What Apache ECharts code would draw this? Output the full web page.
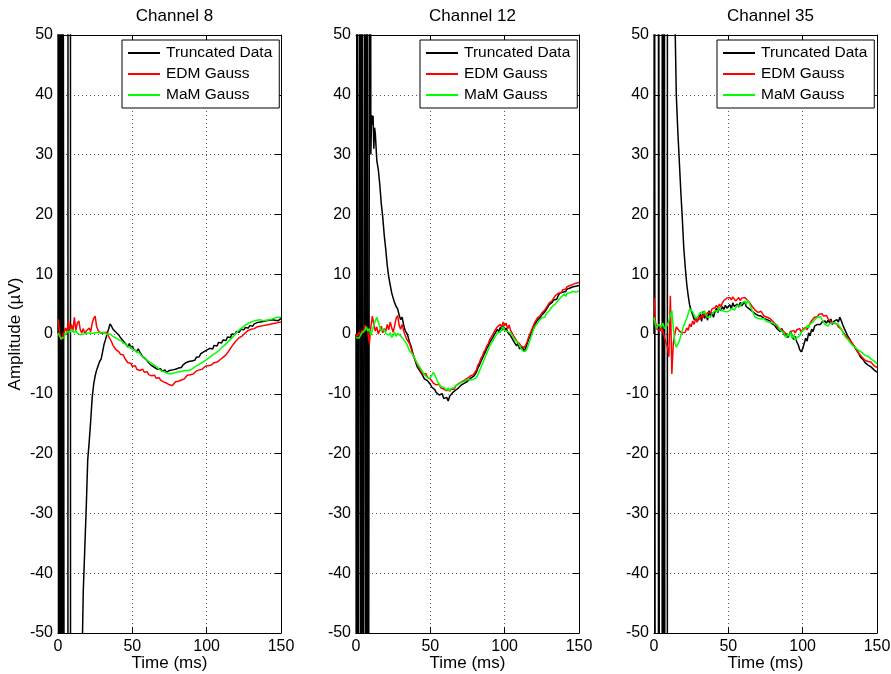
<!DOCTYPE html>
<html><head><meta charset="utf-8">
<script src="https://cdn.jsdelivr.net/npm/echarts@6/dist/echarts.min.js"></script>
<style>html,body{margin:0;padding:0;background:#fff}#c{width:891px;height:674px}</style>
</head><body><div id="c"></div>
<script>
// ---------------- DATA ----------------
const channelTitles = ['Channel 8', 'Channel 12', 'Channel 35'];
const seriesNames = ['Truncated Data', 'EDM Gauss', 'MaM Gauss'];
const xAxisTitle = 'Time (ms)';
const yAxisTitle = 'Amplitude (µV)';
const xRange = [0, 150];
const yRange = [-50, 50];
// sampling grid: 0..150 ms, 1 ms step
const sampleTimes = [];
for (let i = 0; i <= 150; i++) sampleTimes.push(i);

// ---- Channel 8 ----
// stimulation artefact (truncated data before recovery), fine time resolution
const ch8TruncEarlyT = [0, 0.15, 0.4, 0.65, 0.9, 1.15, 1.4, 1.65, 1.9, 2.15, 2.4, 2.65, 2.9, 3.2, 4.35, 4.45, 6.65, 6.75, 8.35, 8.45, 12, 16.5];
const ch8TruncEarlyV = [0, 150, -150, 150, -150, 150, -150, 150, -150, 150, -150, 150, -150, 150, 150, -150, -150, 150, 150, -150, -160, -50];
const ch8Trunc = [
  null,null,null,null,null,null,null,null,null,null,null,
  null,null,null,null,null,null,-43,-36,-29,-21,
  -18,-14.5,-10.6,-8.4,-7.0,-6.0,-5.3,-4.6,-4.2,-3.0,
  -1.7,-0.9,0.0,0.8,1.7,1.3,0.8,1.0,0.3,0.5,
  -0.2,-0.6,-0.3,-1.2,-1.0,-1.8,-2.2,-1.6,-2.4,-2.0,
  -2.6,-2.3,-2.9,-2.5,-3.0,-3.4,-3.8,-3.6,-4.2,-4.5,
  -4.8,-5.0,-5.3,-5.2,-5.6,-5.7,-5.9,-6.1,-5.8,-6.2,
  -6.3,-6.0,-6.4,-6.2,-6.1,-5.8,-6.0,-5.7,-5.9,-5.6,
  -5.7,-5.4,-5.6,-5.2,-5.0,-4.8,-5.1,-4.6,-4.9,-4.5,
  -4.2,-4.4,-3.9,-3.6,-3.8,-3.3,-3.5,-3.0,-3.2,-2.7,
  -2.9,-2.4,-2.2,-2.5,-1.9,-1.7,-2.0,-1.4,-1.2,-1.5,
  -1.0,-0.8,-1.1,-0.5,-0.3,-0.6,0.0,0.2,-0.1,0.4,
  0.6,0.3,0.8,1.0,0.7,1.1,1.3,1.0,1.4,1.6,
  1.3,1.7,1.5,1.9,1.6,2.0,1.8,2.1,1.9,2.2,
  2.0,2.3,2.1,2.4,2.2,2.3,2.5,2.2,2.4,2.6
];
const ch8Edm = [
  2.5,0.5,-1.0,-0.7,0.2,1.0,0.3,2.2,0.5,1.6,0.4,
  2.8,0.6,1.8,2.2,0.7,0.2,0.9,0.1,0.5,0.3,
  1.0,0.4,1.8,2.6,3.0,1.2,0.6,0.3,0.1,-0.2,
  0.2,-0.1,0.3,-0.4,-0.8,-1.3,-1.9,-2.2,-2.6,-2.9,
  -3.0,-3.4,-3.6,-3.5,-4.1,-4.4,-4.8,-5.0,-4.9,-5.4,
  -5.6,-5.3,-5.9,-5.7,-6.1,-6.3,-5.9,-6.4,-6.6,-6.3,
  -6.8,-6.6,-7.0,-7.2,-6.9,-7.4,-7.6,-7.3,-7.7,-7.9,
  -8.0,-7.8,-8.2,-8.4,-8.5,-8.2,-8.6,-8.3,-8.0,-7.8,
  -7.9,-7.6,-7.7,-7.4,-7.5,-7.2,-6.9,-7.1,-6.8,-6.6,
  -6.7,-6.4,-6.2,-6.3,-6.0,-5.8,-5.9,-5.6,-5.4,-5.5,
  -5.3,-5.1,-5.2,-4.9,-4.8,-5.0,-4.7,-4.5,-4.3,-4.1,
  -3.9,-3.7,-3.5,-3.2,-2.8,-2.4,-2.1,-1.7,-1.4,-1.1,
  -0.9,-0.6,-0.4,-0.3,0.0,0.2,0.3,0.6,0.7,0.8,
  1.0,0.9,1.1,1.2,1.0,1.3,1.2,1.4,1.3,1.5,
  1.4,1.6,1.5,1.7,1.6,1.8,1.7,1.9,1.8,2.0
];
const ch8Mam = [
  0.2,-0.3,-0.8,-1.0,-0.6,0.0,0.4,0.6,0.3,0.8,0.5,
  0.2,0.6,0.1,0.3,-0.1,0.2,0.0,0.3,0.1,0.4,
  0.2,0.5,0.1,0.3,0.2,0.0,0.3,0.1,0.2,0.0,
  0.3,0.1,-0.1,0.2,0.0,-0.2,-0.4,-0.3,-0.7,-0.9,
  -1.0,-1.3,-1.2,-1.6,-1.8,-1.7,-2.1,-2.3,-2.2,-2.6,
  -2.8,-2.7,-3.1,-3.3,-3.2,-3.6,-3.8,-3.9,-4.2,-4.4,
  -4.5,-4.8,-4.9,-5.1,-5.3,-5.4,-5.7,-5.9,-6.0,-6.2,
  -6.3,-6.4,-6.5,-6.6,-6.5,-6.7,-6.6,-6.5,-6.6,-6.4,
  -6.5,-6.3,-6.4,-6.2,-6.3,-6.1,-6.0,-6.1,-5.8,-5.9,
  -5.6,-5.5,-5.3,-5.2,-5.0,-4.9,-4.7,-4.6,-4.4,-4.3,
  -4.0,-3.9,-3.7,-3.5,-3.4,-3.2,-3.0,-2.8,-2.6,-2.3,
  -2.1,-1.9,-1.6,-1.4,-1.1,-0.9,-0.6,-0.4,-0.1,0.2,
  0.4,0.7,0.9,1.1,1.3,1.5,1.6,1.8,1.9,2.0,
  2.1,2.2,2.1,2.3,2.2,2.4,2.3,2.2,2.4,2.3,
  2.5,2.4,2.6,2.5,2.6,2.7,2.6,2.8,2.9,2.8
];

// ---- Channel 12 ----
const ch12TruncEarlyT = [0, 0.3, 0.65, 0.75, 1.25, 1.35, 2.65, 2.75, 3.35, 3.45, 3.95, 4.05, 4.65, 4.75, 6.05, 6.15, 6.65, 6.75, 7.35, 7.45, 8.05, 8.15, 9.35, 9.45, 9.9, 10.0, 10.5, 11.0, 11.5, 12.0, 12.5];
const ch12TruncEarlyV = [0, -150, -150, 150, 150, -150, -150, 150, 150, -150, -150, 150, 150, -150, -150, 150, 150, -150, -150, 150, 150, -150, -150, 150, 150, 30, 36.6, 35, 36.5, 31, 34.5];
const ch12Trunc = [
  null,null,null,null,null,null,null,null,null,null,null,
  null,null,33.5,29,27.5,25,21.8,19.5,16.5,14.2,
  11.5,9.6,8.2,6.9,6.0,5.2,4.6,4.2,3.2,2.4,
  2.8,1.6,0.6,0.2,-0.4,-1.4,-2.0,-3.0,-3.9,-4.6,
  -5.4,-5.6,-6.2,-6.6,-7.0,-7.5,-7.2,-7.8,-8.1,-8.4,
  -8.9,-8.6,-9.3,-9.8,-9.5,-10.2,-10.4,-10.0,-10.8,-11.1,
  -10.6,-11.2,-10.4,-10.7,-9.8,-10.1,-9.4,-9.7,-9.0,-8.8,
  -8.5,-8.7,-8.2,-8.4,-7.9,-7.7,-7.4,-7.6,-7.1,-6.8,
  -6.4,-5.7,-5.2,-4.6,-4.1,-3.5,-3.0,-2.4,-2.0,-1.4,
  -1.0,-0.6,-0.1,0.3,0.8,0.4,1.1,0.6,1.4,0.5,
  1.0,0.3,0.6,-0.3,-0.6,-1.2,-1.6,-2.0,-1.5,-2.5,
  -2.8,-2.2,-2.9,-2.4,-1.7,-1.0,-0.5,0.3,0.9,1.5,
  1.8,2.3,2.0,2.8,3.2,3.0,3.7,4.1,4.5,4.9,
  4.7,5.3,5.7,6.0,5.8,6.4,6.8,6.5,7.0,7.3,
  7.1,7.5,7.2,7.7,7.4,7.9,7.6,8.0,8.3,8.1
];
const ch12Edm = [
  0.0,-0.4,0.3,-0.2,0.6,0.2,1.5,1.8,0.4,-1.6,1.2,
  3.0,1.6,0.5,1.2,0.0,0.6,1.3,0.2,0.9,0.4,
  1.6,0.7,2.0,1.1,0.3,1.4,2.6,3.1,1.5,0.8,
  1.6,0.6,-0.2,-0.8,-0.6,-1.6,-2.4,-3.2,-3.8,-4.4,
  -5.0,-5.4,-5.9,-6.2,-6.7,-7.0,-6.6,-7.2,-7.0,-7.5,
  -7.8,-8.2,-7.9,-8.5,-8.8,-8.4,-9.0,-8.7,-9.2,-9.0,
  -9.5,-9.1,-9.6,-9.2,-8.9,-9.3,-8.7,-8.9,-8.3,-8.5,
  -8.0,-8.2,-7.7,-7.9,-7.4,-7.6,-7.0,-7.2,-6.8,-6.6,
  -6.0,-5.2,-4.8,-4.1,-3.7,-3.0,-2.6,-2.0,-1.6,-0.9,
  -0.6,-0.1,0.4,0.8,1.2,0.9,1.6,1.1,2.0,1.4,
  1.8,0.9,1.5,0.6,0.2,-0.3,-0.7,-1.2,-0.9,-1.6,
  -2.0,-1.7,-2.3,-1.9,-1.4,-0.6,0.0,0.6,1.2,1.8,
  2.0,2.7,2.4,3.1,3.5,3.2,4.0,4.4,4.8,5.2,
  5.0,5.6,6.0,6.4,6.2,6.8,7.1,6.9,7.4,7.7,
  7.5,7.9,7.6,8.1,7.8,8.3,8.0,8.5,8.8,8.6
];
const ch12Mam = [
  -0.6,-0.4,-0.7,-0.5,0.2,0.0,0.6,1.2,0.5,0.9,-0.2,
  0.6,1.5,2.2,2.8,2.0,1.2,0.5,0.3,0.8,0.1,
  0.4,-0.2,0.2,-0.6,-0.2,0.3,-0.4,0.1,0.0,-0.3,
  -0.5,-0.9,-1.1,-1.6,-2.2,-2.8,-3.1,-3.4,-3.9,-4.3,
  -4.8,-5.2,-5.6,-6.0,-6.4,-6.8,-7.0,-7.3,-7.5,-7.3,
  -6.9,-6.4,-6.8,-7.4,-8.0,-8.4,-8.8,-8.5,-8.9,-9.2,
  -9.4,-9.0,-9.5,-9.1,-8.8,-9.0,-8.6,-8.7,-8.4,-8.5,
  -8.1,-8.3,-7.9,-8.0,-7.6,-7.5,-7.7,-7.4,-7.6,-7.8,
  -7.3,-6.8,-6.2,-5.6,-5.0,-4.4,-3.8,-3.2,-2.6,-2.0,
  -1.7,-1.2,-0.7,-0.3,0.2,0.5,0.3,0.8,1.2,0.6,
  0.9,0.4,0.7,0.2,-0.2,-0.5,-1.0,-1.2,-1.5,-1.9,
  -2.4,-2.8,-2.6,-2.9,-2.5,-1.8,-1.0,-0.3,0.4,1.1,
  1.3,1.8,2.2,2.0,2.7,3.0,2.8,3.4,3.7,3.9,
  4.2,4.6,4.4,5.0,5.3,5.6,5.9,6.2,6.4,6.7,
  6.3,6.8,6.5,6.9,6.7,7.1,6.8,7.0,7.3,7.2
];

// ---- Channel 35 ----
const ch35TruncEarlyT = [0, 0.25, 0.85, 0.95, 2.95, 3.05, 3.65, 3.75, 5.45, 5.55, 6.15, 6.25, 6.75, 6.85, 7.35, 7.45, 8.95, 9.05, 11, 14.3];
const ch35TruncEarlyV = [0, 150, 150, -150, -150, 150, 150, -150, -150, 150, 150, -150, -150, 150, 150, -150, -150, 150, 160, 50];
const ch35Trunc = [
  null,null,null,null,null,null,null,null,null,null,null,
  null,null,null,null,40,34,29,24,19.5,14.5,
  11.2,8.4,6.4,4.8,3.9,3.2,2.4,2.8,2.0,2.6,
  3.4,2.1,3.8,2.6,3.5,2.3,3.9,3.0,3.6,2.8,
  3.7,4.3,3.6,4.4,3.9,4.6,4.1,4.8,4.3,4.5,
  4.9,4.2,5.2,4.6,4.3,5.0,4.5,5.3,4.7,5.0,
  5.4,4.6,4.9,4.2,4.5,3.8,4.0,3.4,3.6,3.1,
  3.3,3.0,3.2,2.6,2.9,2.4,2.7,2.2,1.8,2.1,
  1.5,1.2,0.8,1.1,0.4,0.9,0.2,-0.3,0.1,-0.6,
  -0.2,0.5,-0.5,-0.9,-0.4,-1.3,-1.8,-2.6,-3.0,-2.5,
  -1.6,-0.7,-1.2,0.2,-0.3,0.8,0.4,1.3,1.0,1.6,
  1.9,1.6,2.0,1.7,2.2,1.8,2.3,1.9,2.5,1.6,
  2.1,1.8,2.4,2.0,2.8,2.2,1.5,0.9,0.4,-0.2,
  -0.6,-1.0,-1.5,-1.8,-2.2,-2.6,-3.0,-3.4,-3.9,-4.2,
  -4.4,-4.8,-4.6,-5.2,-5.0,-5.5,-5.3,-6.0,-5.8,-6.4
];
const ch35Edm = [
  6.1,2.0,0.8,1.0,0.5,1.2,0.4,0.7,-1.4,-2.2,-3.8,
  6.4,-6.7,-1.5,0.0,1.2,1.0,0.5,0.8,0.2,0.4,
  0.3,1.0,0.6,1.7,1.2,2.2,1.6,2.6,2.0,2.9,
  2.4,3.2,2.7,3.4,3.0,3.6,3.9,3.5,4.2,4.0,
  4.4,4.8,4.3,5.0,4.6,5.2,5.6,5.4,6.0,5.8,
  6.1,5.7,6.2,5.9,5.5,5.8,6.1,5.6,6.0,5.8,
  6.1,5.9,5.6,5.4,5.0,4.6,4.3,4.0,3.8,3.6,
  3.5,3.8,3.4,3.0,3.2,2.8,3.0,2.6,2.4,2.1,
  2.0,1.6,1.2,1.4,0.8,1.0,0.5,0.2,0.0,0.3,
  -0.2,0.4,0.1,0.6,0.2,0.7,0.4,0.9,0.3,0.8,
  0.6,1.1,0.7,1.3,1.8,2.2,2.5,2.8,3.1,2.9,
  3.3,3.1,3.4,3.0,2.8,3.1,2.6,2.3,2.0,2.2,
  1.8,1.5,1.7,1.2,1.0,0.8,0.4,0.1,-0.3,-0.6,
  -0.8,-1.1,-1.4,-1.8,-2.1,-2.5,-2.9,-3.3,-3.6,-3.9,
  -4.1,-4.4,-4.3,-4.6,-4.8,-4.7,-5.0,-5.3,-5.2,-5.6
];
const ch35Mam = [
  2.8,1.4,1.0,1.6,1.7,1.2,1.8,0.9,0.6,1.5,2.2,
  3.2,3.9,1.0,-1.5,-2.2,-2.0,-1.2,-0.3,0.6,1.4,
  2.0,2.6,3.4,4.2,4.5,3.7,3.2,2.6,2.8,3.1,
  3.6,3.9,3.4,3.9,3.2,2.8,3.0,2.8,3.4,3.6,
  3.9,4.2,3.8,4.5,4.0,4.3,3.8,4.1,3.7,3.9,
  3.9,4.3,4.6,4.0,4.4,4.8,5.0,4.6,5.2,5.3,
  5.5,5.0,5.6,5.2,4.6,3.9,3.4,2.8,3.0,2.6,
  2.9,2.5,2.3,2.6,2.2,2.4,2.0,2.3,1.9,2.1,
  1.7,1.9,1.5,1.0,0.6,0.9,0.3,-0.2,-0.6,0.0,
  -0.4,0.3,-0.7,-0.2,-1.1,-0.6,-0.9,-0.3,0.2,0.6,
  0.3,0.9,1.4,1.0,1.7,1.5,2.0,2.4,2.2,2.8,
  2.6,2.9,2.4,2.1,1.6,1.8,1.3,1.7,1.4,1.9,
  2.2,1.8,2.1,1.6,1.3,0.8,0.3,-0.2,-0.6,-0.9,
  -1.1,-1.5,-1.8,-2.0,-2.2,-2.4,-2.6,-2.8,-2.7,-3.1,
  -3.3,-3.6,-3.9,-3.7,-4.0,-4.2,-4.1,-4.5,-4.8,-5.0
];

// ---------------- CHART ----------------
const panels = [
  { early: [ch8TruncEarlyT, ch8TruncEarlyV], trunc: ch8Trunc, edm: ch8Edm, mam: ch8Mam },
  { early: [ch12TruncEarlyT, ch12TruncEarlyV], trunc: ch12Trunc, edm: ch12Edm, mam: ch12Mam },
  { early: [ch35TruncEarlyT, ch35TruncEarlyV], trunc: ch35Trunc, edm: ch35Edm, mam: ch35Mam }
];
const colors = ['#000000', '#ff0000', '#00ff00'];
const FONT = 'Liberation Sans, Arial, Helvetica, sans-serif';
const gridLeft = [58, 356, 654];
const legendLeft = [122, 420, 717];
const GRID_TOP = 35, GRID_W = 223, GRID_H = 598;

function pairs(vals) {
  const out = [];
  vals.forEach((v, i) => { if (v !== null) out.push([sampleTimes[i], v]); });
  return out;
}
function earlyPairs(e) { return e[0].map((t, i) => [t, e[1][i]]); }

const grids = [], xAxes = [], yAxes = [], series = [], legends = [], titles = [];
const gridLineStyle = { color: '#555', type: [1, 3], width: 1 };
const axisLineStyle = { color: '#000', width: 1 };

panels.forEach((p, i) => {
  grids.push({ left: gridLeft[i], top: GRID_TOP, width: GRID_W, height: GRID_H, containLabel: false, outerBoundsMode: 'none' });
  xAxes.push({
    gridIndex: i, type: 'value', min: xRange[0], max: xRange[1], interval: 50, position: 'bottom',
    axisLine: { onZero: false, lineStyle: axisLineStyle },
    axisTick: { inside: true, length: 6, lineStyle: axisLineStyle },
    axisLabel: { fontSize: 16, color: '#000', margin: 6, fontFamily: FONT },
    splitLine: { show: true, lineStyle: gridLineStyle },
    name: xAxisTitle, nameLocation: 'middle', nameGap: 22, nameMoveOverlap: false,
    nameTextStyle: { fontSize: 17, color: '#000', fontFamily: FONT, verticalAlign: 'top' }
  });
  xAxes.push({
    gridIndex: i, type: 'value', min: xRange[0], max: xRange[1], interval: 50, position: 'top',
    axisLine: { onZero: false, lineStyle: axisLineStyle },
    axisTick: { inside: true, length: 6, lineStyle: axisLineStyle },
    axisLabel: { show: false }, splitLine: { show: false }
  });
  const yLeft = {
    gridIndex: i, type: 'value', min: yRange[0], max: yRange[1], interval: 10, position: 'left',
    axisLine: { onZero: false, show: true, lineStyle: axisLineStyle },
    axisTick: { show: true, inside: true, length: 6, lineStyle: axisLineStyle },
    axisLabel: { fontSize: 16, color: '#000', margin: 5, fontFamily: FONT },
    splitLine: { show: true, lineStyle: gridLineStyle }
  };
  if (i === 0) {
    yLeft.name = yAxisTitle; yLeft.nameLocation = 'middle'; yLeft.nameGap = 34; yLeft.nameMoveOverlap = false;
    yLeft.nameTextStyle = { fontSize: 17, color: '#000', fontFamily: FONT };
  }
  yAxes.push(yLeft);
  yAxes.push({
    gridIndex: i, type: 'value', min: yRange[0], max: yRange[1], interval: 10, position: 'right',
    axisLine: { onZero: false, show: true, lineStyle: axisLineStyle },
    axisTick: { show: true, inside: true, length: 6, lineStyle: axisLineStyle },
    axisLabel: { show: false }, splitLine: { show: false }
  });
  const datas = [earlyPairs(p.early).concat(pairs(p.trunc)), pairs(p.edm), pairs(p.mam)];
  datas.forEach((d, k) => {
    series.push({
      name: seriesNames[k], type: 'line', xAxisIndex: 2 * i, yAxisIndex: 2 * i,
      data: d, symbol: 'none', showSymbol: false, clip: true, animation: false,
      lineStyle: { width: 1.5, color: colors[k] }, itemStyle: { color: colors[k] },
      z: 2 + k
    });
  });
  legends.push({
    data: seriesNames, orient: 'vertical', left: legendLeft[i], top: 40,
    icon: 'rect', itemWidth: 32, itemHeight: 2, itemGap: 5,
    padding: [5, 7, 5, 6], backgroundColor: '#fff', borderColor: '#000', borderWidth: 1, borderRadius: 0,
    selectedMode: false,
    textStyle: { fontSize: 15.5, color: '#000', fontFamily: FONT, lineHeight: 15, padding: [0, 0, 0, 1] }
  });
  titles.push({
    text: channelTitles[i], left: gridLeft[i] + GRID_W / 2, top: 3, textAlign: 'center',
    textStyle: { fontSize: 17, fontWeight: 'normal', color: '#000', fontFamily: FONT }
  });
});

const chart = echarts.init(document.getElementById('c'), null, { renderer: 'canvas' });
chart.setOption({
  animation: false,
  backgroundColor: '#fff',
  title: titles, grid: grids, xAxis: xAxes, yAxis: yAxes, legend: legends, series: series
});
</script>
</body></html>
